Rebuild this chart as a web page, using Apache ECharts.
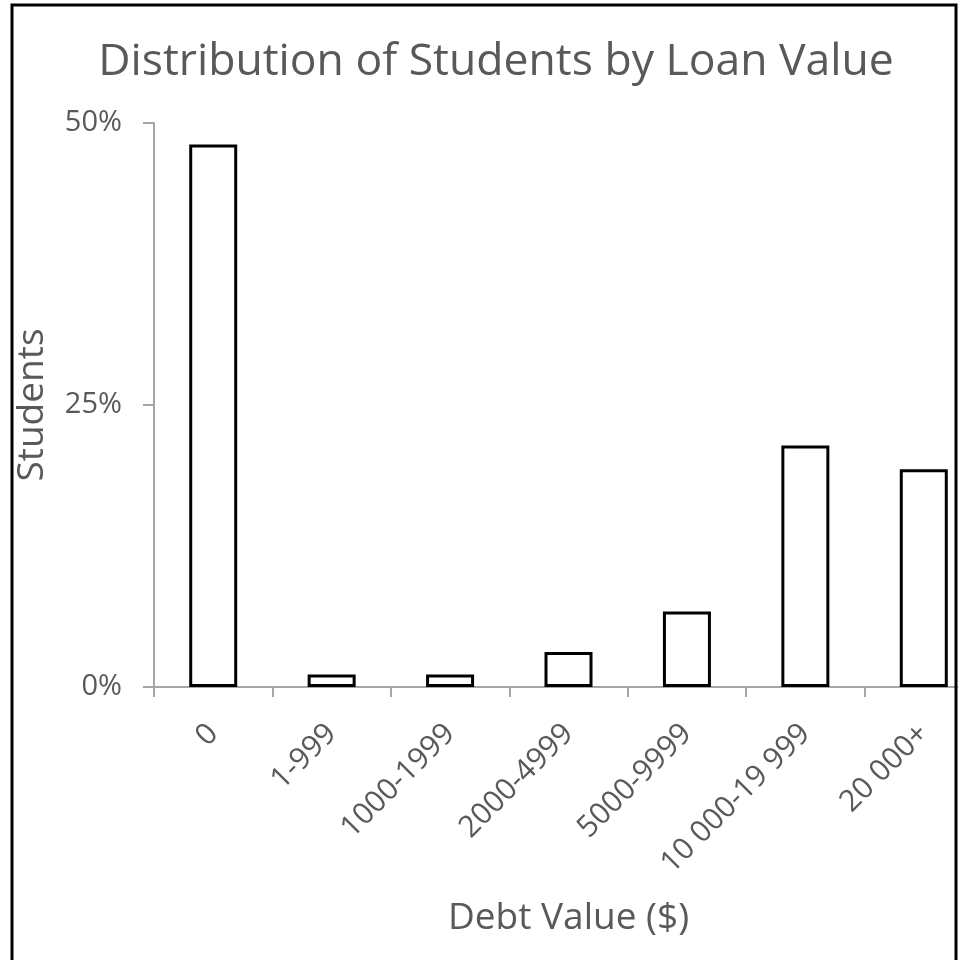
<!DOCTYPE html>
<html>
<head>
<meta charset="utf-8">
<script src="https://cdn.jsdelivr.net/npm/echarts@6/dist/echarts.min.js"></script>
<style>html,body{margin:0;padding:0;background:#fff;}#c{width:968px;height:960px;}</style>
</head>
<body>
<div id="c"></div>
<script>
const categories = ['0', '1-999', '1000-1999', '2000-4999', '5000-9999', '10 000-19 999', '20 000+'];
const studentsPct = [48.1, 1.1, 1.1, 3.1, 6.7, 21.4, 19.3];
const yTicks = [0, 25, 50];

const chart = echarts.init(document.getElementById('c'), null, {renderer: 'canvas'});
const txt = '#595959';
const font = 'Open Sans';
chart.setOption({
  animation: false,
  backgroundColor: '#fff',
  title: {
    text: 'Distribution of Students by Loan Value',
    left: 491, top: 35, textAlign: 'center',
    textStyle: {fontFamily: font, fontSize: 44.5, fontWeight: 'normal', color: txt}
  },
  grid: {left: 154, top: 123, bottom: 273, width: 829, containLabel: false, outerBoundsMode: 'none'},
  xAxis: {
    type: 'category',
    data: categories,
    name: 'Debt Value ($)',
    nameLocation: 'middle',
    nameGap: 213,
    nameTextStyle: {fontFamily: font, fontSize: 37, color: txt},
    axisLine: {lineStyle: {color: '#a6a6a6', width: 2}},
    axisTick: {show: true, length: 10, lineStyle: {color: '#a6a6a6', width: 2}},
    axisLabel: {rotate: 45, margin: 42, verticalAlign: 'middle', fontFamily: font, fontSize: 30, color: txt, interval: 0}
  },
  yAxis: {
    type: 'value',
    min: yTicks[0], max: yTicks[yTicks.length - 1], interval: yTicks[1] - yTicks[0],
    name: 'Students',
    nameLocation: 'middle',
    nameGap: 103,
    nameRotate: 90,
    nameTextStyle: {fontFamily: font, fontSize: 37, color: txt},
    axisLine: {show: true, lineStyle: {color: '#a6a6a6', width: 2}},
    axisTick: {show: true, length: 11, lineStyle: {color: '#a6a6a6', width: 2}},
    splitLine: {show: false},
    axisLabel: {formatter: '{value}%', margin: 32, fontFamily: font, fontSize: 29, color: txt}
  },
  series: [{
    type: 'bar',
    data: studentsPct,
    barWidth: 48,
    itemStyle: {color: '#fff', borderColor: '#000', borderWidth: 3}
  }],
  graphic: [
    {type: 'rect', z: 100, shape: {x: 958, y: 0, width: 20, height: 960}, style: {fill: '#fff'}},
    {type: 'rect', z: 101, shape: {x: 12, y: 5, width: 944, height: 970}, style: {fill: 'none', stroke: '#000', lineWidth: 3}}
  ]
});
</script>
</body>
</html>
